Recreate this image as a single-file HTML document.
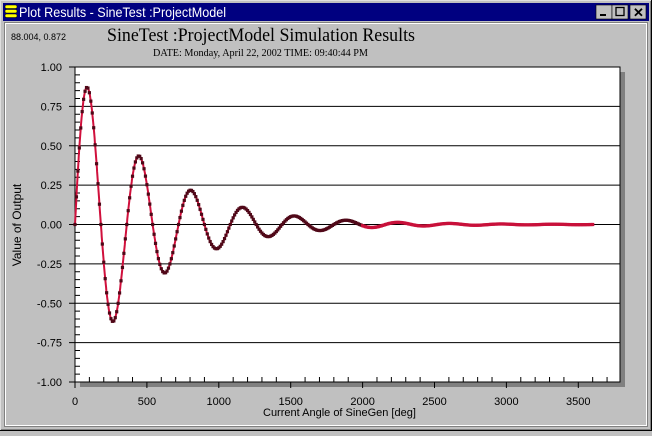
<!DOCTYPE html>
<html><head><style>
body{margin:0;width:652px;height:431px;overflow:hidden;background:#c0c0c0;font-family:"Liberation Sans",sans-serif}
</style></head><body>
<svg id="s" width="652" height="431" xmlns="http://www.w3.org/2000/svg" font-family="Liberation Sans, sans-serif">
<rect x="0" y="0" width="652" height="431" fill="#c0c0c0"/>
<line x1="0" y1="0.5" x2="652" y2="0.5" stroke="#dfdfdf"/>
<line x1="0.5" y1="0" x2="0.5" y2="431" stroke="#dfdfdf"/>
<line x1="651.5" y1="0" x2="651.5" y2="431" stroke="#000"/>
<line x1="0" y1="430.5" x2="652" y2="430.5" stroke="#000"/>
<line x1="650.5" y1="1" x2="650.5" y2="430" stroke="#808080"/>
<line x1="1" y1="429.5" x2="651" y2="429.5" stroke="#808080"/>
<rect x="3" y="3" width="646" height="18" fill="#000080"/>
<g fill="#ffff00" stroke="#000" stroke-width="0.5"><rect x="5" y="5" width="12" height="3.5" rx="1.5"/><rect x="5" y="9.5" width="12" height="3.5" rx="1.5"/><rect x="5" y="14" width="12" height="3.5" rx="1.5"/></g>
<text x="19" y="17" fill="#fff" font-size="14" textLength="207" lengthAdjust="spacingAndGlyphs">Plot Results - SineTest :ProjectModel</text>
<g><rect x="596" y="5" width="16" height="14" fill="#c0c0c0" stroke="#000" stroke-width="0.6"/><rect x="612" y="5" width="16" height="14" fill="#c0c0c0" stroke="#000" stroke-width="0.6"/><rect x="630" y="5" width="16" height="14" fill="#c0c0c0" stroke="#000" stroke-width="0.6"/>
<rect x="600" y="14" width="6" height="2" fill="#000"/><rect x="616" y="7.5" width="8" height="8" fill="none" stroke="#000" stroke-width="1.3"/><text x="633" y="17" font-size="13" font-weight="bold">✕</text></g>
<rect x="4.5" y="22.5" width="643" height="404" fill="none" stroke="#808080"/>
<rect x="5.5" y="23.5" width="641" height="402" fill="none" stroke="#fff"/>
<text x="11" y="40" font-size="9">88.004, 0.872</text>
<text x="107" y="41" font-family="Liberation Serif, serif" font-size="19" textLength="308" lengthAdjust="spacingAndGlyphs">SineTest :ProjectModel Simulation Results</text>
<text x="153" y="56" font-family="Liberation Serif, serif" font-size="11" textLength="215" lengthAdjust="spacingAndGlyphs">DATE: Monday, April 22, 2002  TIME: 09:40:44 PM</text>
<rect x="80" y="72" width="545" height="315" fill="#808080"/>
<rect x="75" y="67" width="545" height="315" fill="#fff" stroke="#000"/>
<g id="g"></g>
<text x="263" y="416" font-size="11">Current Angle of SineGen [deg]</text>
<text transform="translate(21,225) rotate(-90)" font-size="12" text-anchor="middle">Value of Output</text>
</svg>
<script>
var g=document.getElementById('g'),h='';
function X(v){return 75+v*0.1438}function Y(v){return 224.5-v*157.5}
for(var i=-4;i<=4;i++){var y=Y(i*0.25);
 if(i>-4&&i<4)h+='<line x1="75" x2="620" y1="'+y+'" y2="'+y+'" stroke="#000"/>';
 h+='<line x1="69" x2="75" y1="'+y+'" y2="'+y+'" stroke="#000"/>';
 h+='<text x="62" y="'+(y+4)+'" font-size="11" text-anchor="end">'+(i*0.25).toFixed(2)+'</text>';}
for(var j=-20;j<=20;j++){if(j%5)h+='<line x1="75" x2="80" y1="'+Y(j*0.05)+'" y2="'+Y(j*0.05)+'" stroke="#000"/>';}
for(var k=0;k<=37;k++){var x=X(k*100);
 if(k%5==0){h+='<line x1="'+x+'" x2="'+x+'" y1="382" y2="388" stroke="#000"/>';if(k<=35)h+='<text x="'+x+'" y="405" font-size="11" text-anchor="middle">'+(k*100)+'</text>';}
 else h+='<line x1="'+x+'" x2="'+x+'" y1="377" y2="382" stroke="#000"/>';}
var a=Math.log(2)/(2*Math.PI),p='',d='';
for(var t=0;t<=3600;t+=2){var r=t*Math.PI/180,v=1.03*Math.sin(r)*Math.exp(-a*r);p+=(t?'L':'M')+X(t).toFixed(1)+' '+Y(v).toFixed(1);}
h+='<path d="'+p+'" fill="none" stroke="#d0103c" stroke-width="2"/>';
for(var t=0;t<=3600;t+=10){var r=t*Math.PI/180,v=1.03*Math.sin(r)*Math.exp(-a*r);d+='<rect x="'+(X(t)-1.6)+'" y="'+(Y(v)-1.6)+'" width="3.2" height="3.2" fill="'+(t<2000?'#500818':'#c8103a')+'"/>';}
h+=d;
g.innerHTML=h;
</script>
</body></html>
